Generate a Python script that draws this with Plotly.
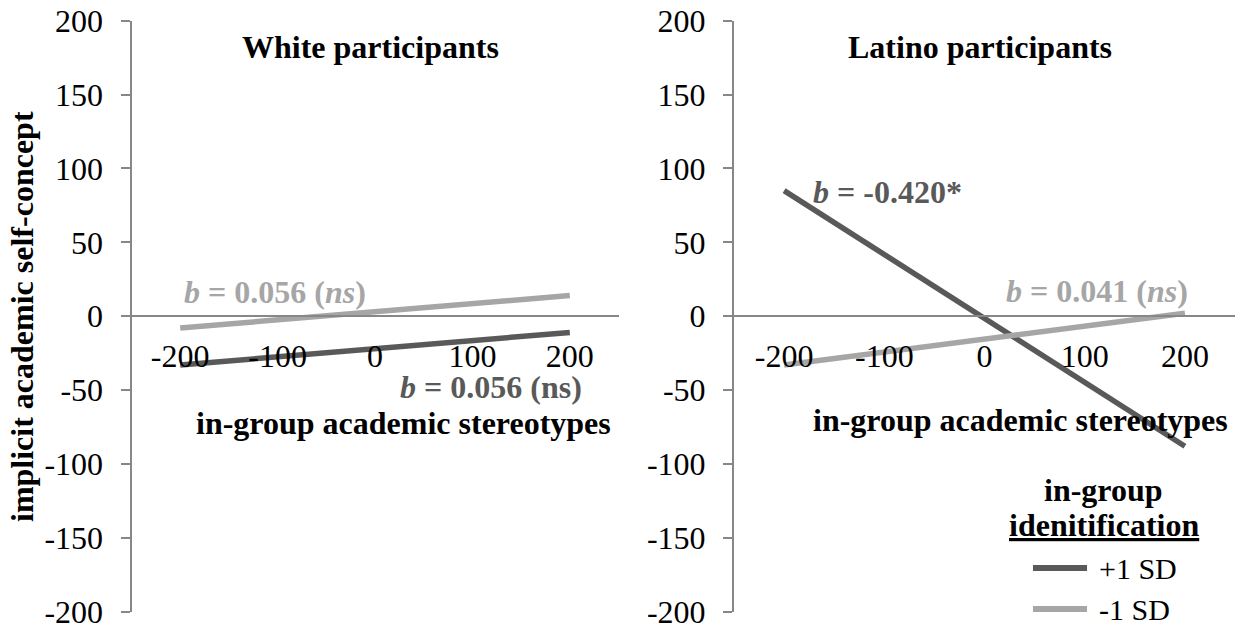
import plotly.graph_objects as go

# Simple-slope endpoints at -200 and +200 on the stereotype scale
x_levels = [-200, 200]
x_ticks = [-200, -100, 0, 100, 200]
y_ticks = [-200, -150, -100, -50, 0, 50, 100, 150, 200]

white_high = [-33, -11]   # +1 SD identification
white_low = [-8, 14]      # -1 SD identification
latino_high = [85, -88]
latino_low = [-33, 2]

DARK = "#595959"
LIGHT = "#a6a6a6"
AXIS = "#878787"
FONT = "Liberation Serif"
FS = 32

W, H = 1239, 629


def px(x):
    return x / W


def py(y):
    return 1 - y / H


y_dom = [py(611.7), py(20.7)]
x_dom_left = [px(131.5), px(618.5)]
x_dom_right = [px(734.0), px(1235.0)]
zero_pos = (y_dom[0] + y_dom[1]) / 2

fig = go.Figure()

for xa, ya, hi, lo in [("x", "y", white_high, white_low),
                        ("x2", "y2", latino_high, latino_low)]:
    fig.add_trace(go.Scatter(x=x_levels, y=hi, mode="lines", xaxis=xa, yaxis=ya,
                             line=dict(color=DARK, width=5.5), showlegend=False,
                             name="+1 SD"))
    fig.add_trace(go.Scatter(x=x_levels, y=lo, mode="lines", xaxis=xa, yaxis=ya,
                             line=dict(color=LIGHT, width=5.5), showlegend=False,
                             name="-1 SD"))

xaxis_common = dict(range=[-250, 250], tickvals=x_ticks, ticktext=[str(v) for v in x_ticks],
                    showline=True, linecolor=AXIS, linewidth=2, showgrid=False,
                    zeroline=False, ticks="", ticklabelstandoff=11, automargin=False,
                    ticklabeloverflow="allow",
                    tickfont=dict(family=FONT, size=FS, color="black"),
                    anchor="free", position=zero_pos)
yaxis_common = dict(range=[-200, 200], tickvals=y_ticks, ticktext=[str(v) for v in y_ticks],
                    showline=True, linecolor=AXIS,
                    linewidth=2, showgrid=False, zeroline=False, ticks="outside",
                    ticklen=9, tickwidth=2, tickcolor=AXIS, ticklabelstandoff=11,
                    automargin=False, ticklabeloverflow="allow",
                    tickfont=dict(family=FONT, size=FS, color="black"),
                    domain=y_dom)

fig.update_layout(
    width=W, height=H,
    margin=dict(l=0, r=0, t=0, b=0),
    paper_bgcolor="white", plot_bgcolor="white",
    xaxis=dict(domain=x_dom_left, **xaxis_common),
    yaxis=dict(anchor="x", **yaxis_common),
    xaxis2=dict(domain=x_dom_right, **xaxis_common),
    yaxis2=dict(anchor="x2", **yaxis_common),
    showlegend=False,
)


def note(text, x, y, color="black", size=FS, angle=0):
    fig.add_annotation(text=text, x=px(x), y=py(y), xref="paper", yref="paper",
                       showarrow=False, xanchor="center", yanchor="middle",
                       textangle=angle,
                       font=dict(family=FONT, size=size, color=color))


# panel titles
note("<b>White participants</b>", 370, 47)
note("<b>Latino participants</b>", 980, 47)

# axis titles
note("<b>implicit academic self-concept</b>", 22, 317, angle=-90)
note("<b>in-group academic stereotypes</b>", 403, 423)
note("<b>in-group academic stereotypes</b>", 1020, 420)

# slope labels
note("<b><i>b</i> = 0.056 (<i>ns</i>)</b>", 275, 292, color=LIGHT)
note("<b><i>b</i> = 0.056 (ns)</b>", 491, 387, color=DARK)
note("<b><i>b</i> = -0.420*</b>", 887, 192, color=DARK)
note("<b><i>b</i> = 0.041 (<i>ns</i>)</b>", 1097, 291, color=LIGHT)

# legend block
note("<b>in-group</b>", 1103, 490)
note("<b><u>idenitification</u></b>", 1104, 525)
for label, color, yy in [("+1 SD", DARK, 568), ("-1 SD", LIGHT, 609)]:
    fig.add_shape(type="line", xref="paper", yref="paper",
                  x0=px(1033), x1=px(1087), y0=py(yy), y1=py(yy),
                  line=dict(color=color, width=6))
    fig.add_annotation(text=label, x=px(1097), y=py(yy), xref="paper", yref="paper",
                       showarrow=False, xanchor="left", yanchor="middle",
                       font=dict(family=FONT, size=FS - 2, color="black"))

fig.write_html("out.html")
